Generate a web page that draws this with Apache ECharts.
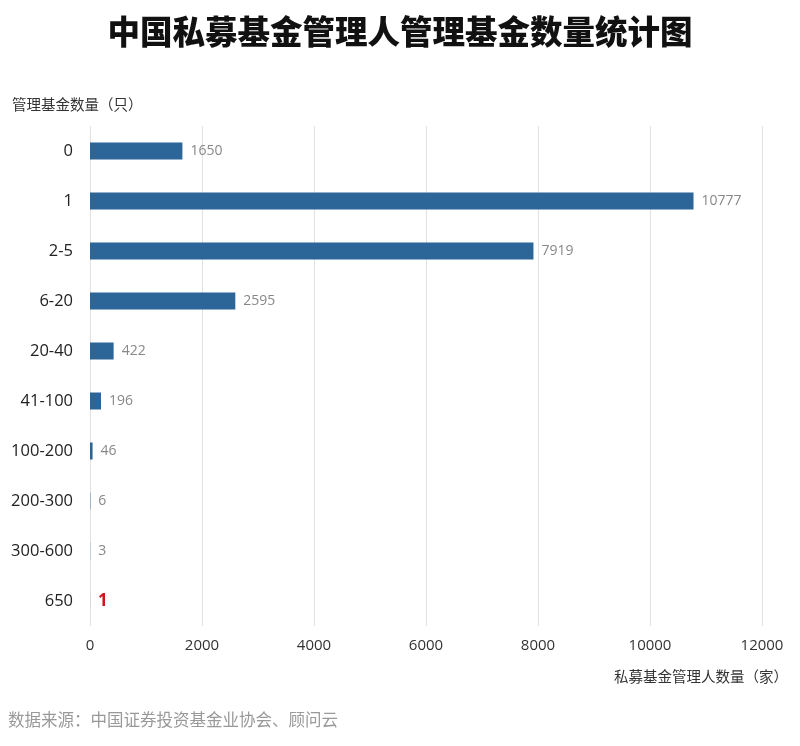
<!DOCTYPE html>
<html><head><meta charset="utf-8">
<script src="https://cdn.jsdelivr.net/npm/echarts@6/dist/echarts.min.js"></script>
<style>html,body{margin:0;padding:0;background:#fff}#c{width:800px;height:746px}</style>
</head><body><div id="c"></div>
<script>
const categories = ['0','1','2-5','6-20','20-40','41-100','100-200','200-300','300-600','650'];
const managerCounts = [1650,10777,7919,2595,422,196,46,6,3,1];
const xTicks = [0,2000,4000,6000,8000,10000,12000];
const highlightIndex = 9;

const chart = echarts.init(document.getElementById('c'));
const font = '"Noto Sans CJK SC","Noto Sans",sans-serif';
const numFont = '"Open Sans","Noto Sans CJK SC",sans-serif';
chart.setOption({
  animation:false,
  backgroundColor:'#fff',
  title:{text:'中国私募基金管理人管理基金数量统计图',left:'center',top:10,
    textStyle:{fontSize:32.5,fontWeight:900,color:'#111',fontFamily:font}},
  graphic:[
    {type:'text',left:8,top:711,style:{text:'数据来源：中国证券投资基金业协会、顾问云',fill:'#999',fontSize:16.5,fontFamily:font}},
    {type:'text',left:12,top:97,style:{text:'管理基金数量（只）',fill:'#333',fontSize:14.5,fontFamily:font}},
    {type:'text',right:12,top:669,style:{text:'私募基金管理人数量（家）',fill:'#333',fontSize:14.5,fontFamily:font,align:'right'}}
  ],
  grid:{left:90,right:38,top:126,bottom:120,containLabel:false},
  xAxis:{type:'value',min:xTicks[0],max:xTicks[xTicks.length-1],interval:2000,
    axisLine:{show:false},axisTick:{show:false},
    axisLabel:{color:'#333',fontSize:15,fontFamily:numFont,margin:12,formatter:v=>String(v)},
    splitLine:{lineStyle:{color:'#e2e2e2',width:1}}},
  yAxis:{type:'category',data:categories,inverse:true,
    axisLine:{show:false},axisTick:{show:false},
    axisLabel:{color:'#222',fontSize:16.5,fontFamily:numFont,margin:17}},
  series:[{type:'bar',data:managerCounts.map((v,i)=>i===highlightIndex?{value:v,label:{color:'#d0141c',fontWeight:'bold',fontSize:17}}:v),
    barWidth:17,itemStyle:{color:'#2c6699'},
    label:{show:true,position:'right',distance:8,color:'#888',fontSize:14,fontFamily:numFont}}]
});
</script></body></html>
